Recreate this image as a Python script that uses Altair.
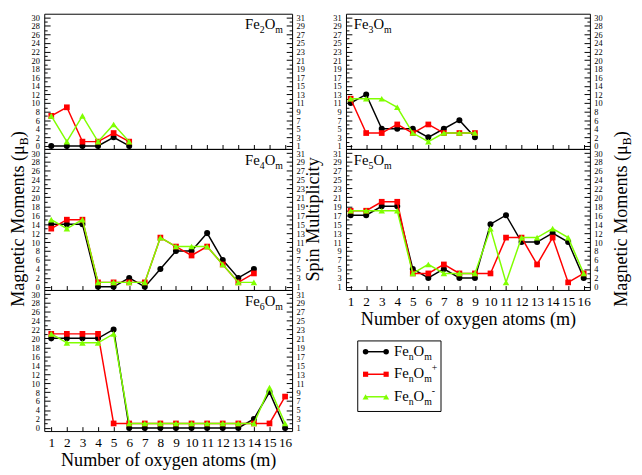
import altair as alt
import pandas as pd

# ---------------- data: magnetic moments (muB); spin multiplicity = moment + 1 -------------
m_values = list(range(1, 17))

fe2_neutral = [0, 0, 0, 0, 2, 0]
fe2_cation = [7, 9, 1, 1, 3, 1]
fe2_anion = [7, 1, 7, 1, 5, 1]

fe3_neutral = [10, 12, 4, 4, 4, 2, 4, 6, 2]
fe3_cation = [11, 3, 3, 5, 3, 5, 3, 3, 3]
fe3_anion = [11, 11, 11, 9, 3, 1, 3, 3, 3]

fe4_neutral = [14, 14, 14, 0, 0, 2, 0, 4, 8, 8, 12, 6, 2, 4]
fe4_cation = [13, 15, 15, 1, 1, 1, 1, 11, 9, 7, 9, 5, 1, 3]
fe4_anion = [15, 13, 15, 1, 1, 1, 1, 11, 9, 9, 9, 5, 1, 1]

fe5_neutral = [16, 16, 18, 18, 4, 2, 4, 2, 2, 14, 16, 10, 10, 12, 10, 2]
fe5_cation = [17, 17, 19, 19, 3, 3, 5, 3, 3, 3, 11, 11, 5, 11, 1, 3]
fe5_anion = [17, 17, 17, 17, 3, 5, 3, 3, 3, 13, 1, 11, 11, 13, 11, 3]

fe6_neutral = [20, 20, 20, 20, 22, 0, 0, 0, 0, 0, 0, 0, 0, 2, 8, 0]
fe6_cation = [21, 21, 21, 21, 1, 1, 1, 1, 1, 1, 1, 1, 1, 1, 1, 7]
fe6_anion = [21, 19, 19, 19, 21, 1, 1, 1, 1, 1, 1, 1, 1, 1, 9, 1]

y_even_ticks = list(range(0, 31, 2))
y_odd_ticks = list(range(1, 30, 2))
x_title = "Number of oxygen atoms (m)"
y_title_main = "Magnetic Moments (\u03bc"
y_title_sub = "B"
y_title_end = ")"
sm_title = "Spin Multiplicity"
panel_digits = ["2", "3", "4", "5", "6"]
legend_charges = ["", "+", "-"]

# ---------------- styles ----------------
FONT = "Liberation Serif"
COLORS = ["#000000", "#ff0000", "#80ff00"]
SHAPES = ["circle", "square", "triangle-up"]
SIZES = [38, 34, 44]
Y_DOMAIN = [-0.7, 30.8]
W_L, W_R = 253, 249
H1, H2 = 138, 144
XDOM_L = [0.55, 16.45]
XDOM_R = [0.7, 16.4]
DUMMY = pd.DataFrame({"k": [0]})

EM = {"F": .556, "e": .444, "O": .722, "m": .778, "n": .5, "+": .564, "-": .333,
      "B": .667, ")": .333, "(": .333, "M": .889, "a": .444, "g": .5, "t": .278,
      "i": .278, "c": .444, " ": .25, "o": .5, "s": .389, "\u03bc": .576}

EDGE_LABEL_OFFSET = {
    "condition": [{"test": "datum.value == 0", "value": -0.7},
                  {"test": "datum.value == 30", "value": 0.7}],
    "value": 0,
}


def tw(s, size):
    return sum(EM.get(c, .5) for c in s) * size


def text(txt, size, x, y, align="left", baseline="alphabetic", angle=None):
    kw = dict(text=txt, font=FONT, fontSize=size, align=align, baseline=baseline, color="black")
    if angle is not None:
        kw["angle"] = angle
    return alt.Chart(DUMMY).mark_text(**kw).encode(x=alt.value(x), y=alt.value(y))


def rich(segments, x0, y0):
    out, x = [], x0
    for txt, size, dy in segments:
        out.append(text(txt, size, x, y0 + dy))
        x += tw(txt, size)
    return out


def mm_title(xb, yc):
    f, fb = 18.5, 12
    w1, wb, w3 = tw(y_title_main, f), tw(y_title_sub, fb), tw(y_title_end, f)
    p = yc - (w1 - wb - w3) / 2
    return [text(y_title_main, f, xb, p, align="right", angle=270),
            text(y_title_sub, fb, xb + 4, p, align="left", angle=270),
            text(y_title_end, f, xb, p - wb, align="left", angle=270)]


def lab_axis(orient, pad, expr):
    kw = dict(orient=orient, values=y_even_ticks, ticks=False, domain=False, grid=False,
              labelFont=FONT, labelFontSize=8.5, labelColor="black", labelPadding=pad,
              labelOverlap=False, title=None, labelOffset=EDGE_LABEL_OFFSET)
    if expr:
        kw["labelExpr"] = expr
    return alt.Axis(**kw)


def tick_axis(orient, offset, vals, size):
    return alt.Axis(orient=orient, offset=offset, values=vals, labels=False, domain=False,
                    grid=False, ticks=True, tickSize=size, tickColor="black", tickWidth=1,
                    title=None)


def x_label_axis():
    return alt.Axis(orient="bottom", values=m_values, ticks=False, domain=False, grid=False,
                    labelFont=FONT, labelFontSize=13.5, labelColor="black", labelPadding=5,
                    labelOverlap=False, labelFlush=False, title=x_title, titleFont=FONT,
                    titleFontSize=18.5, titleFontWeight="normal", titleColor="black",
                    titlePadding=2)


def make_panel(vals_list, W, H, xdom, sm_left, bottom_labels, digit, name_x, extras=()):
    xs = alt.Scale(domain=xdom, nice=False, zero=False)
    ys = alt.Scale(domain=Y_DOMAIN, nice=False, zero=False)
    sm_expr = "datum.value + 1"
    y_axes = [lab_axis("left", 5, sm_expr if sm_left else None),
              tick_axis("right", -W, y_even_ticks, 6),
              tick_axis("right", -W, y_odd_ticks, 3),
              lab_axis("right", 4, None if sm_left else sm_expr),
              tick_axis("left", -W, y_even_ticks, 6),
              tick_axis("left", -W, y_odd_ticks, 3)]
    x_axes = [alt.Axis(orient="top", offset=-H, values=m_values, labels=False, domain=False,
                       grid=False, tickSize=4.5, tickColor="black", title=None),
              x_label_axis() if bottom_labels else None, None, None, None, None]
    layers = []
    for k, vals in enumerate(vals_list):
        df = pd.DataFrame({"m": m_values[:len(vals)], "v": vals})
        line = alt.Chart(df).mark_line(color=COLORS[k], strokeWidth=1.5).encode(
            x=alt.X("m:Q", scale=xs, axis=x_axes[2 * k]),
            y=alt.Y("v:Q", scale=ys, axis=y_axes[2 * k]))
        pts = alt.Chart(df).mark_point(shape=SHAPES[k], filled=True, color=COLORS[k],
                                       size=SIZES[k], opacity=1).encode(
            x=alt.X("m:Q", scale=xs, axis=x_axes[2 * k + 1]),
            y=alt.Y("v:Q", scale=ys, axis=y_axes[2 * k + 1]))
        layers += [line, pts]
    layers += rich([("Fe", 15, 0), (digit, 10, 4), ("O", 15, 0), ("m", 10, 4)], name_x, 16)
    layers += list(extras)
    return alt.layer(*layers).resolve_axis(x="independent", y="independent").properties(
        width=W, height=H)


p2 = make_panel([fe2_neutral, fe2_cation, fe2_anion], W_L, H1, XDOM_L, False, False,
                panel_digits[0], 205)
p3 = make_panel([fe3_neutral, fe3_cation, fe3_anion], W_R, H1, XDOM_R, True, False,
                panel_digits[1], 8)
p4 = make_panel([fe4_neutral, fe4_cation, fe4_anion], W_L, H2, XDOM_L, False, False,
                panel_digits[2], 205, extras=mm_title(-21, H2 / 2))
p5 = make_panel([fe5_neutral, fe5_cation, fe5_anion], W_R, H2, XDOM_R, True, True,
                panel_digits[3], 8,
                extras=[text(sm_title, 18.5, -28, H2 / 2, align="center", angle=270)]
                + mm_title(W_R + 38, H2 / 2))
p6 = make_panel([fe6_neutral, fe6_cation, fe6_anion], W_L, H2, XDOM_L, False, True,
                panel_digits[4], 205)

# ---------------- legend cell ----------------
leg_layers = [alt.Chart(DUMMY).mark_rect(fill="white", stroke="black", strokeWidth=1).encode(
    x=alt.value(12), x2=alt.value(97), y=alt.value(52), y2=alt.value(124))]
for k in range(3):
    yy = 63 + 23 * k
    leg_layers.append(alt.Chart(DUMMY).mark_rule(color=COLORS[k], strokeWidth=1.5).encode(
        x=alt.value(20), x2=alt.value(41), y=alt.value(yy)))
    for xx in (20, 41):
        leg_layers.append(alt.Chart(DUMMY).mark_point(
            shape=SHAPES[k], filled=True, color=COLORS[k], size=SIZES[k] - 6, opacity=1
        ).encode(x=alt.value(xx), y=alt.value(yy)))
    segs = [("Fe", 15, 0), ("n", 10, 4), ("O", 15, 0), ("m", 10, 4)]
    if legend_charges[k]:
        segs.append((legend_charges[k], 10, -7))
    leg_layers += rich(segs, 49, yy + 4)
legend_cell = alt.layer(*leg_layers).properties(
    width=W_R, height=H2, view=alt.ViewBackground(stroke="transparent"))

chart = alt.concat(p2, p3, p4, p5, p6, legend_cell, columns=2,
                   spacing={"row": 0, "column": 55}, bounds="flush", align="each").properties(
    padding={"left": 0, "top": 0, "right": 0, "bottom": 0}, background="white"
).configure_view(stroke="black", strokeWidth=1).configure_axis(grid=False)

chart.save("out.html", embed_options={"renderer": "svg", "actions": False})
